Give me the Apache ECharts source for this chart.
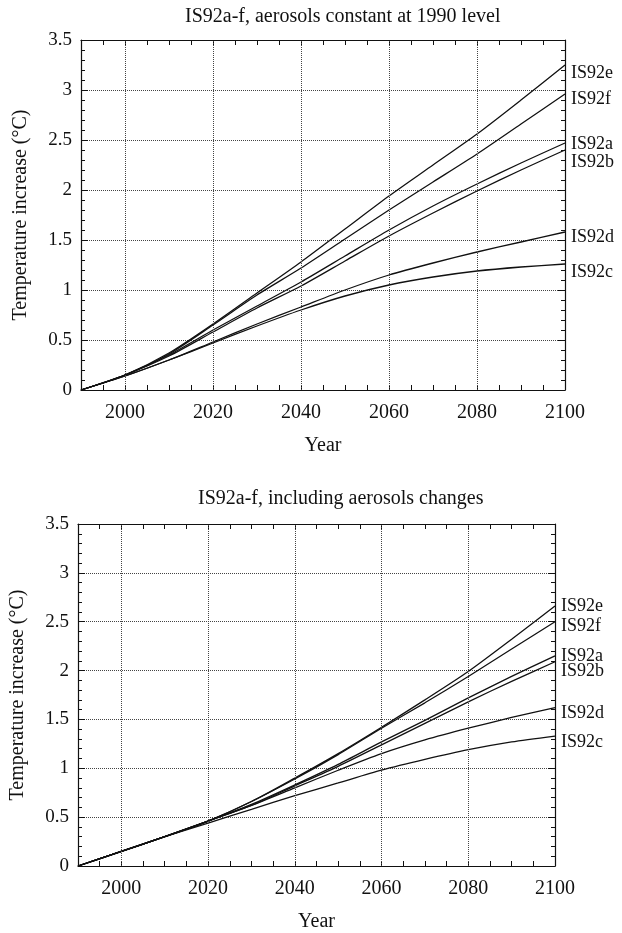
<!DOCTYPE html>
<html><head><meta charset="utf-8">
<script src="https://cdn.jsdelivr.net/npm/echarts@6/dist/echarts.min.js"></script>
<style>html,body{margin:0;padding:0;background:#fff}#c{width:622px;height:933px}</style>
</head><body><div id="c"></div>
<script>
const years = [1990, 2000, 2010, 2020, 2030, 2040, 2050, 2060, 2070, 2080, 2090, 2100];
const seriesNames = ['IS92e', 'IS92f', 'IS92a', 'IS92b', 'IS92d', 'IS92c'];
// Panel 1: aerosols constant at 1990 level
const constE = [0, 0.15, 0.37, 0.66, 0.97, 1.28, 1.61, 1.94, 2.25, 2.56, 2.90, 3.25];
const constF = [0, 0.15, 0.36, 0.65, 0.95, 1.22, 1.51, 1.80, 2.08, 2.36, 2.66, 2.96];
const constA = [0, 0.15, 0.35, 0.60, 0.84, 1.08, 1.34, 1.60, 1.84, 2.06, 2.27, 2.47];
const constB = [0, 0.15, 0.34, 0.58, 0.82, 1.04, 1.29, 1.54, 1.77, 1.99, 2.20, 2.40];
const constD = [0, 0.14, 0.30, 0.48, 0.66, 0.83, 1.00, 1.15, 1.27, 1.38, 1.48, 1.58];
const constC = [0, 0.14, 0.30, 0.47, 0.64, 0.80, 0.94, 1.05, 1.13, 1.19, 1.23, 1.26];
// Panel 2: including aerosols changes
const chgE = [0, 0.15, 0.30, 0.46, 0.66, 0.90, 1.15, 1.42, 1.70, 1.99, 2.32, 2.66];
const chgF = [0, 0.15, 0.30, 0.46, 0.66, 0.89, 1.14, 1.41, 1.67, 1.94, 2.22, 2.50];
const chgA = [0, 0.15, 0.30, 0.46, 0.63, 0.83, 1.04, 1.27, 1.49, 1.72, 1.94, 2.15];
const chgB = [0, 0.15, 0.30, 0.46, 0.62, 0.82, 1.02, 1.24, 1.46, 1.68, 1.89, 2.09];
const chgD = [0, 0.15, 0.30, 0.46, 0.62, 0.80, 0.98, 1.15, 1.29, 1.41, 1.52, 1.62];
const chgC = [0, 0.15, 0.30, 0.44, 0.58, 0.72, 0.85, 0.98, 1.09, 1.19, 1.27, 1.33];
const xGridYears = [2000, 2020, 2040, 2060, 2080];
const titles = ['IS92a-f, aerosols constant at 1990 level', 'IS92a-f, including aerosols changes'];

const panels = [
  [constE, constF, constA, constB, constD, constC],
  [chgE, chgF, chgA, chgB, chgD, chgC]
];
const labelOffsets = [
  {IS92e: [0, 8], IS92f: [0, 5], IS92a: [0, 1], IS92b: [0, 12], IS92d: [0, 5], IS92c: [0, 8]},
  {IS92e: [0, 0], IS92f: [0, 5], IS92a: [0, 0], IS92b: [0, 9], IS92d: [0, 6], IS92c: [0, 6]}
];
const FONT = 'Liberation Serif';
const INK = '#111';

function xAx(gi, pos, labels) {
  return {
    type: 'value', gridIndex: gi, position: pos, min: 1990, max: 2100, interval: 5,
    name: labels ? 'Year' : '', nameLocation: 'middle', nameGap: 46,
    nameTextStyle: {fontFamily: FONT, fontSize: 20, color: INK},
    axisLine: {show: true, onZero: false, lineStyle: {color: INK, width: 1.2}},
    axisTick: {show: true, inside: true, length: 5, lineStyle: {color: INK}},
    axisLabel: {show: labels, margin: 13, fontFamily: FONT, fontSize: 20, color: INK,
      formatter: v => (v % 20 === 0 ? String(v) : '')},
    splitLine: {show: false}
  };
}
function yAx(gi, pos, labels) {
  return {
    type: 'value', gridIndex: gi, position: pos, min: 0, max: 3.5, interval: 0.5,
    name: labels ? 'Temperature increase (°C)' : '', nameLocation: 'middle', nameGap: 50,
    nameTextStyle: {fontFamily: FONT, fontSize: 20, color: INK},
    axisLine: {show: true, onZero: false, lineStyle: {color: INK, width: 1.2}},
    axisTick: {show: true, inside: true, length: 7, lineStyle: {color: INK}},
    minorTick: {show: true, splitNumber: 5, length: 4, lineStyle: {color: INK}},
    axisLabel: {show: labels, margin: 9, fontFamily: FONT, fontSize: 19, color: INK},
    splitLine: {show: labels, lineStyle: {type: 'dotted', color: '#444', width: 1}}
  };
}

const series = [];
panels.forEach((vals, gi) => {
  vals.forEach((arr, si) => {
    const name = seriesNames[si];
    const s = {
      type: 'line', name: name, xAxisIndex: gi * 2, yAxisIndex: gi * 2,
      data: years.map((y, i) => [y, arr[i]]),
      showSymbol: false, symbol: 'none', smooth: 0.25,
      lineStyle: {color: INK, width: 1.3},
      endLabel: {show: true, formatter: '{a}', color: INK, fontFamily: FONT, fontSize: 18,
        distance: 6, offset: labelOffsets[gi][name]}
    };
    if (si === 0) {
      s.markLine = {
        silent: true, symbol: ['none', 'none'], label: {show: false},
        lineStyle: {type: 'dotted', color: '#444', width: 1},
        data: xGridYears.map(v => ({xAxis: v}))
      };
    }
    series.push(s);
  });
});

const chart = echarts.init(document.getElementById('c'), null, {renderer: 'canvas'});
chart.setOption({
  animation: false,
  backgroundColor: '#fff',
  textStyle: {fontFamily: FONT},
  title: [
    {text: titles[0], left: 180, top: 2, textStyle: {fontFamily: FONT, fontSize: 20, fontWeight: 'normal', color: INK}},
    {text: titles[1], left: 193, top: 484, textStyle: {fontFamily: FONT, fontSize: 20, fontWeight: 'normal', color: INK}}
  ],
  grid: [
    {left: 81, right: 57, top: 40, height: 350},
    {left: 77, right: 67, top: 524, height: 349}
  ],
  xAxis: [xAx(0, 'bottom', true), xAx(0, 'top', false), xAx(1, 'bottom', true), xAx(1, 'top', false)],
  yAxis: [yAx(0, 'left', true), yAx(0, 'right', false), yAx(1, 'left', true), yAx(1, 'right', false)],
  series: series
});
</script></body></html>
